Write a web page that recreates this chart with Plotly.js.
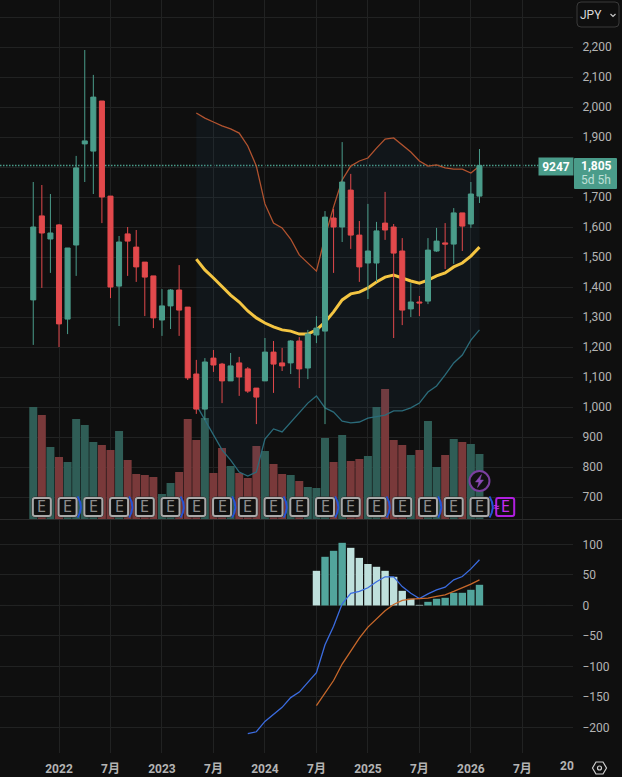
<!DOCTYPE html>
<html><head><meta charset="utf-8">
<script src="https://cdn.plot.ly/plotly-3.0.1.min.js"></script>
<style>html,body{margin:0;padding:0;background:#0f0f0f;overflow:hidden}#c{width:622px;height:777px}</style>
</head><body><div id="c"></div>
<script>
// ---------- data (month index 0 = 2021-10) ----------
const open  = [1357,1637,1560,1607,1293,1540,1877,1853,2020,1703,1403,1577,1533,1483,1437,1290,1337,1390,1333,1110,993,1163,1143,1087,1147,1127,1063,1087,1183,1147,1147,1220,1130,1240,1253,1630,1600,1723,1573,1480,1480,1613,1600,1520,1327,1350,1353,1520,1547,1543,1647,1610,1703];
const high  = [1750,1740,1710,1610,1530,1837,2190,2107,2020,1703,1570,1600,1590,1483,1437,1393,1393,1473,1333,1157,1163,1190,1147,1180,1167,1133,1063,1230,1220,1197,1223,1233,1257,1303,1653,1660,1883,1777,1620,1677,1617,1717,1610,1563,1413,1370,1563,1597,1613,1663,1647,1750,1860];
const low   = [1207,1397,1447,1200,1243,1437,1750,1710,1613,1363,1270,1437,1417,1303,1263,1237,1260,1237,1090,977,957,1117,1013,1087,1037,1047,943,1087,1047,1120,1110,1063,1093,1213,943,1447,1550,1527,1417,1360,1417,1557,1230,1273,1300,1303,1343,1517,1460,1477,1520,1597,1680];
const close = [1600,1580,1580,1277,1530,1797,1887,2033,1700,1400,1550,1553,1467,1433,1297,1337,1390,1323,1097,993,1150,1140,1087,1137,1100,1053,1033,1183,1143,1137,1220,1127,1243,1263,1633,1600,1750,1573,1467,1520,1587,1590,1513,1323,1350,1347,1523,1553,1543,1647,1603,1710,1805];
const volume= [112,104,72,62,57,100,94,77,74,69,88,59,45,44,42,25,36,47,100,79,101,46,71,53,46,41,73,68,55,45,44,38,32,31,81,57,84,58,60,63,112,130,79,74,64,69,98,52,64,80,77,75,65];
const bbStart = 19;
const bbUpper = [1980,1963,1950,1937,1927,1913,1870,1803,1677,1613,1597,1560,1507,1480,1453,1567,1667,1757,1803,1820,1830,1863,1893,1897,1873,1850,1820,1803,1807,1797,1793,1793,1780,1803];
const bbBasis = [1493,1457,1430,1400,1373,1350,1320,1297,1280,1267,1257,1253,1243,1243,1257,1283,1317,1357,1377,1383,1397,1417,1433,1440,1430,1420,1413,1423,1437,1447,1467,1480,1503,1533];
const bbLower = [1007,957,907,857,823,783,770,783,893,927,917,950,983,1013,1037,997,983,953,947,950,963,967,973,987,987,997,1013,1050,1070,1107,1147,1173,1223,1257];
const macdStart = 25;
const macdLine = [-210,-207,-190,-179,-167,-151,-142,-126,-110,-64.5,-34,2.7,20,23,29,39,47,47,31,20,11.5,19,25.7,30,42,47.5,60,75];
const signalStart = 33;
const signalLine = [-164,-144,-123,-96,-75,-53.5,-35.5,-22.4,-8.7,1.6,8.2,10.4,10.9,12,14.8,17.5,23,28.4,35,42];
const histStart = 33;
const histValues = [56.8,79.8,89.6,102.7,94.5,78,68,63.4,56.8,47,24,11,1,6,11,12.6,20.8,20.8,25.7,33.9];
const histPale   = [1,0,0,0,1,1,1,1,1,1,1,1,1,0,0,0,0,0,0,0];
const timeTickMonths = [3,9,15,21,27,33,39,45,51,57];
const timeTickLabels = ['<b>2022</b>','<b>7月</b>','<b>2023</b>','<b>7月</b>','<b>2024</b>','<b>7月</b>','<b>2025</b>','<b>7月</b>','<b>2026</b>','<b>7月</b>'];
const priceTicks  = [700,800,900,1000,1100,1200,1300,1400,1500,1600,1700,1800,1900,2000,2100,2200,2300];
const priceLabels = ['700','800','900','1,000','1,100','1,200','1,300','1,400','1,500','1,600','1,700','','1,900','2,000','2,100','2,200',''];
const macdTicks  = [-200,-150,-100,-50,0,50,100];
const macdLabels = ['−200','−150','−100','−50','0','50','100'];
const earningsMonths = [1,4,7,10,13,16,19,22,25,28,31,34,37,40,43,46,49,52];
const dividendAfter  = [4,10,16,22,28,34,40,46,52];
const nextEarnings = 55;
const lastPrice = 1805;
const lastVolumeText = '9247';
const countdown = '5d 5h';

// ---------- layout constants ----------
const W=622,H=777,PR=573,PB=753,SEP=519;
const BG='#0f0f0f',GRID='#212222',TXT='#b4b4b4',GREEN='#4a9c8a',RED='#e2494c';
const FONT="Roboto, 'Noto Sans CJK JP', sans-serif";
const idx=(n,s=0)=>Array.from({length:n},(_,i)=>i+s);
const pxX=x=>x/PR, pxY=y=>(PB-y)/PB;
const xRange=[-3.876,62.9];
const priceRange=[626.67,2356.67];
const eRow=666.5;
const boltRow=753.3;

const rrect=(w,h,r)=>{const a=w/2,b=h/2;return `M${-a+r},${-b}L${a-r},${-b}Q${a},${-b} ${a},${-b+r}L${a},${b-r}Q${a},${b} ${a-r},${b}L${-a+r},${b}Q${-a},${b} ${-a},${b-r}L${-a},${-b+r}Q${-a},${-b} ${-a+r},${-b}Z`;};
const circ=r=>{const k=r*0.5523;return `M${-r},0C${-r},${k} ${-k},${r} 0,${r}C${k},${r} ${r},${k} ${r},0C${r},${-k} ${k},${-r} 0,${-r}C${-k},${-r} ${-r},${-k} ${-r},0Z`;};
const anch=(x,y,path,line,fill,xref='x2',yref='y3')=>({type:'path',layer:'above',xref,yref,xsizemode:'pixel',ysizemode:'pixel',xanchor:x,yanchor:y,path,line,fillcolor:fill||'rgba(0,0,0,0)'});
const pAnch=(cx,cy,path,line,fill)=>anch(pxX(cx),pxY(cy),path,line,fill,'paper','paper');

// ---------- traces ----------
const traces=[
 {type:'bar',x:idx(open.length),y:volume,xaxis:'x2',yaxis:'y',marker:{color:open.map((o,i)=>close[i]>=o?'#2f5d56':'#79393a'),line:{width:0}},hoverinfo:'skip'},
 {type:'scatter',mode:'lines',x:idx(bbUpper.length,bbStart),y:bbUpper,xaxis:'x2',yaxis:'y2',line:{color:'#b2532f',width:1.3},hoverinfo:'skip'},
 {type:'scatter',mode:'lines',x:idx(bbLower.length,bbStart),y:bbLower,xaxis:'x2',yaxis:'y2',line:{color:'#2b6b7a',width:1.3},fill:'tonexty',fillcolor:'rgba(35,85,125,0.1)',hoverinfo:'skip'},
 {type:'scatter',mode:'lines',x:idx(bbBasis.length,bbStart),y:bbBasis,xaxis:'x2',yaxis:'y2',line:{color:'#f4c542',width:3},hoverinfo:'skip'},
 {type:'candlestick',x:idx(open.length),open,high,low,close,xaxis:'x2',yaxis:'y3',whiskerwidth:0,
  increasing:{line:{color:GREEN,width:1},fillcolor:GREEN},decreasing:{line:{color:RED,width:1},fillcolor:RED},hoverinfo:'skip'},
 {type:'bar',x:idx(histValues.length,histStart),y:histValues,xaxis:'x',yaxis:'y4',width:0.86,marker:{color:histPale.map(p=>p?'#bfe0dc':'#52a59c'),line:{width:0}},hoverinfo:'skip'},
 {type:'scatter',mode:'lines',x:idx(macdLine.length,macdStart),y:macdLine,xaxis:'x',yaxis:'y4',line:{color:'#3b6ce0',width:1.3},hoverinfo:'skip'},
 {type:'scatter',mode:'lines',x:idx(signalLine.length,signalStart),y:signalLine,xaxis:'x',yaxis:'y4',line:{color:'#c8682a',width:1.3},hoverinfo:'skip'}
];

// ---------- overlays ----------
const shapes=[
 {type:'line',xref:'paper',yref:'y3',x0:0,x1:1,y0:lastPrice,y1:lastPrice,line:{color:GREEN,width:1.5,dash:'1.5px,1.5px'},layer:'below'},
 {type:'line',xref:'paper',yref:'paper',x0:0,x1:W/PR,y0:pxY(SEP+0.5),y1:pxY(SEP+0.5),line:{color:'#2a2a2a',width:1},layer:'above'},
 {type:'line',xref:'paper',yref:'y4',x0:0,x1:1,y0:0,y1:0,line:{color:'#5a5a5a',width:1,dash:'6px,8px'},layer:'below'}
];
dividendAfter.forEach(m=>{
 shapes.push(anch(m,eRow,'M10,-10.5Q16.5,0 10,10.5',{color:'#2453d6',width:2}));
});
earningsMonths.forEach(m=>{
 shapes.push(anch(m,eRow,rrect(20,20,3),{color:'#2e2e2e',width:1},'#111111'));
 shapes.push(anch(m,eRow,rrect(18,18,2),{color:'#a9a9a9',width:2},'#111111'));
});
shapes.push(anch(nextEarnings,eRow,rrect(18,18,2),{color:'#b01fe0',width:2},'#111111'));
shapes.push(anch(52,boltRow,circ(10),{color:'#7b3f9f',width:2},'#111111'));
shapes.push(anch(52,boltRow,'M2,6.5L-4,-1L-0.5,-1L-2,-6.5L4,1L0.5,1Z',{color:'#8a4ab5',width:0.5},'#8a4ab5'));
// price label and controls
shapes.push(pAnch(595.5,173.5,rrect(43,31,1),{width:0},GREEN));
shapes.push(pAnch(598,14.5,rrect(42,25,4),{color:'#3a3a3a',width:1},BG));
shapes.push({type:'path',layer:'above',xref:'paper',yref:'paper',
 path:`M${pxX(610.5)},${pxY(14)}L${pxX(613)},${pxY(16.5)}L${pxX(615.5)},${pxY(14)}`,line:{color:'#c8c8c8',width:1.2}});
// settings hexagon
shapes.push(pAnch(599.5,768,'M-7,0L-3.5,6L3.5,6L7,0L3.5,-6L-3.5,-6Z',{color:'#cfcfcf',width:1.2}));
shapes.push(pAnch(599.5,768,circ(2),{color:'#cfcfcf',width:1.2}));

const note=(px,py,text,size,color,extra={})=>Object.assign({xref:'paper',yref:'paper',x:pxX(px),y:pxY(py),text,showarrow:false,xanchor:'center',yanchor:'middle',font:{family:FONT,size,color}},extra);
const annotations=[
 ...earningsMonths.map(m=>({xref:'x2',yref:'y3',x:m,y:eRow,text:'E',showarrow:false,xanchor:'center',yanchor:'middle',font:{family:"'DejaVu Sans Mono',monospace",size:15,color:'#8c8c8c'}})),
 {xref:'x2',yref:'y3',x:nextEarnings,y:eRow,text:'E',showarrow:false,xanchor:'center',yanchor:'middle',font:{family:"'DejaVu Sans Mono',monospace",size:15,color:'#c42cf0'}},
 note(496.5,506.5,'≈',12,'#c42cf0'),
 note(556,166.5,'<b>'+lastVolumeText+'</b>',12,'#ffffff',{bgcolor:GREEN,width:34,height:17,borderpad:0}),
 note(596,166,'<b>'+lastPrice.toLocaleString('en-US')+'</b>',12,'#ffffff'),
 note(596,180,countdown,12,'#bfe0d8'),
 note(591,15,'JPY',12,'#d8d8d8'),
 note(567,766,'<b>20</b>',12,TXT)
];

const xBase={range:xRange,type:'linear',tickmode:'array',tickvals:timeTickMonths,showgrid:true,gridcolor:GRID,gridwidth:1,zeroline:false,showline:false,fixedrange:true,rangeslider:{visible:false}};
const layout={
 width:W,height:H,paper_bgcolor:BG,plot_bgcolor:BG,showlegend:false,bargap:0.07,boxgap:0.16,
 margin:{l:0,r:W-PR,t:0,b:H-PB,pad:0},font:{family:FONT,color:TXT,size:12},
 xaxis:Object.assign({},xBase,{anchor:'y4',ticktext:timeTickLabels,tickfont:{family:FONT,size:12,color:TXT},ticks:'outside',ticklen:5,tickcolor:'rgba(0,0,0,0)'}),
 xaxis2:Object.assign({},xBase,{anchor:'y',matches:'x',showticklabels:false,ticks:''}),
 yaxis:{domain:[(PB-SEP)/PB,1],anchor:'x2',range:[0,SEP],showgrid:false,showticklabels:false,zeroline:false,fixedrange:true},
 yaxis2:{domain:[(PB-SEP)/PB,1],anchor:'x2',overlaying:'y',side:'right',range:priceRange,tickmode:'array',tickvals:priceTicks,ticktext:priceLabels,
   showgrid:true,gridcolor:GRID,zeroline:false,ticks:'outside',ticklen:6,tickcolor:'rgba(0,0,0,0)',tickfont:{family:FONT,size:12,color:TXT},fixedrange:true},
 yaxis3:{domain:[(PB-SEP)/PB,1],anchor:'x2',overlaying:'y',side:'left',range:priceRange,visible:false,fixedrange:true},
 yaxis4:{domain:[0,(PB-SEP-1)/PB],anchor:'x',side:'right',range:[-241.8,140.1],tickmode:'array',tickvals:macdTicks,ticktext:macdLabels,
   showgrid:true,gridcolor:GRID,zeroline:false,ticks:'outside',ticklen:6,tickcolor:'rgba(0,0,0,0)',tickfont:{family:FONT,size:12,color:TXT},fixedrange:true},
 shapes,annotations
};
Plotly.newPlot('c',traces,layout,{displayModeBar:false,staticPlot:true,responsive:false});
</script></body></html>
